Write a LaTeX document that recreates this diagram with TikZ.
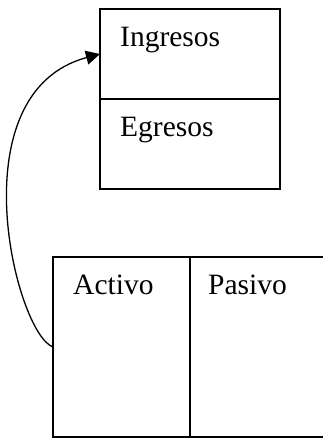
\documentclass[tikz,border=0pt]{standalone}
\usepackage{fontspec}
\setmainfont{Liberation Serif}
\usetikzlibrary{arrows.meta, positioning}

\begin{document}
\begin{tikzpicture}[x=1pt, y=1pt,
    every node/.style={font=\fontsize{29.5}{35}\selectfont},
    >={Triangle[length=14pt, width=14pt]},
    box/.style={rectangle, draw=black, line width=1.2pt, inner sep=0pt, outer sep=0pt, minimum width=180pt, minimum height=90pt},
    tag/.style={anchor=base west, inner sep=0pt},
    line/.style={draw, ->, line width=1.3pt}]

\useasboundingbox (0,0) rectangle (322,438);

% Income statement
\node[box] (ingresos) at (190,384) {};
\node[box, below=0pt of ingresos] (egresos) {};
\node[tag] (ingresostxt) at ([shift={(20,-37.5)}]ingresos.north west) {Ingresos};
\node[tag] (egresostxt) at ([shift={(20,-37.5)}]egresos.north west) {Egresos};

% Balance sheet
\node[box, minimum width=137pt, minimum height=180pt] (activo) at (121.5,91) {};
\node[box, right=0pt of activo, minimum width=150pt, minimum height=180pt] (pasivo) {};
\node[tag] (activotxt) at ([shift={(20,-37.5)}]activo.north west) {Activo};
\node[tag] (pasivotxt) at ([shift={(18,-37.5)}]pasivo.north west) {Pasivo};

% Paths
\draw [line] (activo.west) .. controls +(160:40) and +(195:149) .. (ingresos.west);

\end{tikzpicture}
\end{document}
